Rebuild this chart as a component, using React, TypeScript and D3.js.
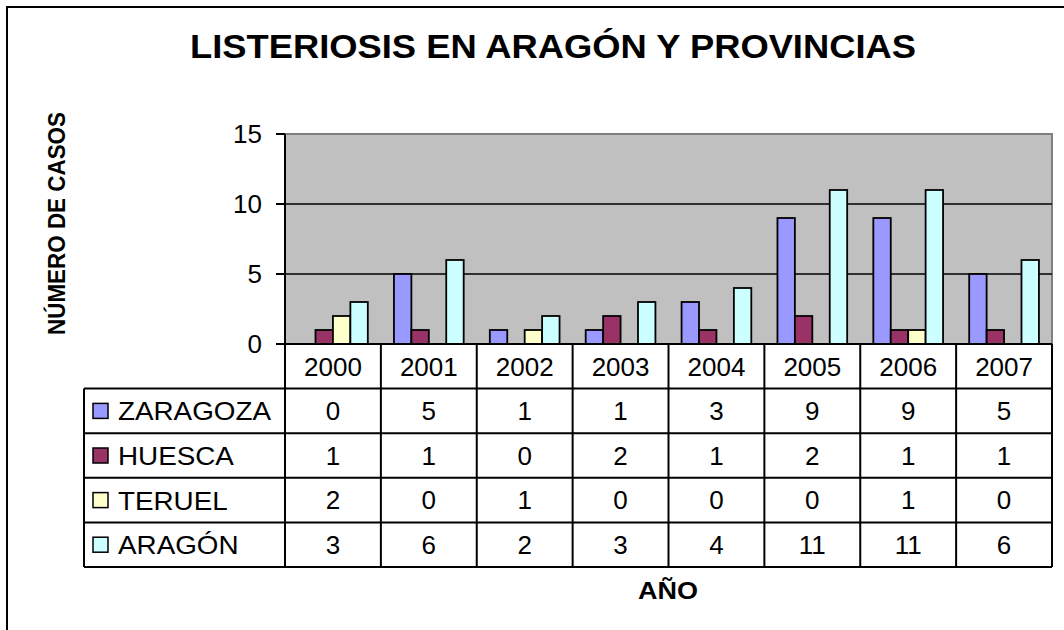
import React from 'react';
import * as d3 from 'd3';

const years = ['2000', '2001', '2002', '2003', '2004', '2005', '2006', '2007'];
const seriesNames = ['ZARAGOZA', 'HUESCA', 'TERUEL', 'ARAGÓN'];
const zaragoza = [0, 5, 1, 1, 3, 9, 9, 5];
const huesca = [1, 1, 0, 2, 1, 2, 1, 1];
const teruel = [2, 0, 1, 0, 0, 0, 1, 0];
const aragon = [3, 6, 2, 3, 4, 11, 11, 6];
const yTicks = [0, 5, 10, 15];
const colors = ['#9999FF', '#993366', '#FFFFCC', '#CCFFFF'];

const FONT = '"Liberation Sans", Arial, sans-serif';

const App = () => {
    const width = 1064;
    const height = 630;
    const allSeries = [zaragoza, huesca, teruel, aragon];

    // plot area
    const left = 285, right = 1052, top = 134, bottom = 344;
    const x0 = d3.scaleBand<string>().domain(years).range([left, right]).padding(0);
    const y = d3.scaleLinear().domain([0, 15]).range([bottom, top]);

    // bars: gap width 150% like excel
    const bw = x0.bandwidth();
    const barW = bw / 5.5;
    const x1 = d3.scaleBand<string>().domain(seriesNames).range([0, barW * 4]).padding(0);
    const groupOffset = (bw - barW * 4) / 2;

    // data table rows
    const tableLeft = 84;
    const rowH = (567 - bottom) / 5;
    const rowY = (i: number) => bottom + i * rowH;

    return (
        <svg width={width} height={height} style={{ position: 'absolute', left: 0, top: 0, background: '#fff' }}>
            {/* outer chart border */}
            <rect x={7} y={7} width={1200} height={800} fill="#fff" stroke="#000" strokeWidth={2} />

            {/* title */}
            <text x={190} y={58} fontFamily={FONT} fontWeight="bold" fontSize={32.5}
                textLength={726} lengthAdjust="spacingAndGlyphs">LISTERIOSIS EN ARAGÓN Y PROVINCIAS</text>

            {/* plot area */}
            <rect x={left} y={top} width={right - left} height={bottom - top} fill="#C0C0C0" />
            <path d={`M${left},${top}H${right}V${bottom}`} fill="none" stroke="#808080" strokeWidth={2} />

            {/* gridlines */}
            {yTicks.filter(t => t > 0 && t < 15).map(t => (
                <line key={t} x1={left} x2={right} y1={y(t)} y2={y(t)} stroke="#000" strokeWidth={1.6} />
            ))}

            {/* bars */}
            {years.map((yr, i) => (
                <g key={yr}>
                    {allSeries.map((s, j) => s[i] > 0 && (
                        <rect key={j}
                            x={(x0(yr) as number) + groupOffset + (x1(seriesNames[j]) as number)}
                            y={y(s[i])}
                            width={barW}
                            height={y(0) - y(s[i])}
                            fill={colors[j]} stroke="#000" strokeWidth={1.8} />
                    ))}
                </g>
            ))}

            {/* y axis */}
            <line x1={left} x2={left} y1={top} y2={bottom} stroke="#000" strokeWidth={2} />
            {yTicks.map(t => (
                <g key={t}>
                    <line x1={left - 9} x2={left} y1={y(t)} y2={y(t)} stroke="#000" strokeWidth={2} />
                    <text x={262} y={y(t)} dy="0.36em" textAnchor="end" fontFamily={FONT} fontSize={26}>{t}</text>
                </g>
            ))}

            {/* y axis title */}
            <text transform={`translate(65,${223.5}) rotate(-90)`} textAnchor="middle" fontFamily={FONT}
                fontWeight="bold" fontSize={23} textLength={223} lengthAdjust="spacingAndGlyphs">NÚMERO DE CASOS</text>

            {/* data table */}
            <g fill="none" stroke="#000" strokeWidth={2}>
                <line x1={left} x2={right} y1={rowY(0)} y2={rowY(0)} />
                {[1, 2, 3, 4, 5].map(i => (
                    <line key={i} x1={tableLeft} x2={right} y1={rowY(i)} y2={rowY(i)} />
                ))}
                <line x1={tableLeft} x2={tableLeft} y1={rowY(1)} y2={rowY(5)} />
                {years.map(yr => (
                    <line key={yr} x1={x0(yr)} x2={x0(yr)} y1={rowY(0)} y2={rowY(5)} />
                ))}
                <line x1={right} x2={right} y1={rowY(0)} y2={rowY(5)} />
            </g>
            {years.map(yr => (
                <text key={yr} x={(x0(yr) as number) + bw / 2} y={(rowY(0) + rowY(1)) / 2} dy="0.36em"
                    textAnchor="middle" fontFamily={FONT} fontSize={26}>{yr}</text>
            ))}
            {seriesNames.map((name, j) => {
                const cy = (rowY(j + 1) + rowY(j + 2)) / 2;
                return (
                    <g key={name}>
                        <rect x={93} y={cy - 7.5} width={15} height={15} fill={colors[j]} stroke="#000" strokeWidth={1.5} />
                        <text transform={`translate(118,${cy}) scale(1.05,1)`} dy="0.36em" fontFamily={FONT} fontSize={26.5}>{name}</text>
                        {allSeries[j].map((v, i) => (
                            <text key={i} x={(x0(years[i]) as number) + bw / 2} y={cy} dy="0.36em"
                                textAnchor="middle" fontFamily={FONT} fontSize={26}>{v}</text>
                        ))}
                    </g>
                );
            })}

            {/* x axis title */}
            <text x={668} y={599} textAnchor="middle" fontFamily={FONT} fontWeight="bold" fontSize={23}
                textLength={60} lengthAdjust="spacingAndGlyphs">AÑO</text>
        </svg>
    );
};

export default App;
